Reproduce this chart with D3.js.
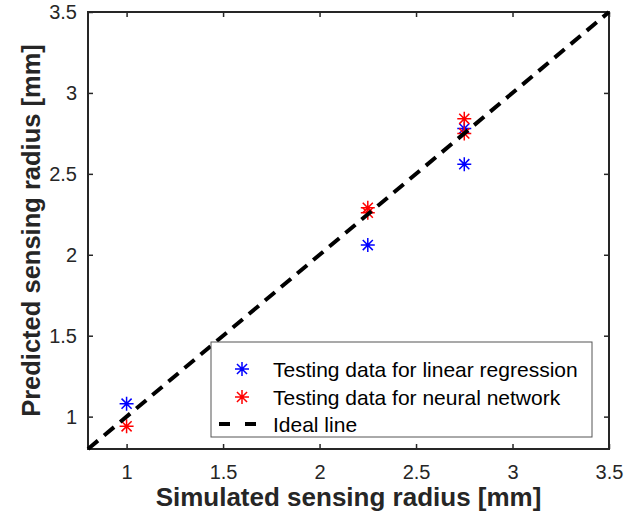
<!DOCTYPE html>
<meta charset="utf-8">
<script src="https://d3js.org/d3.v7.min.js"></script>
<style>
body { margin: 0; background: #fff; }
text { font-family: "Liberation Sans", Arial, sans-serif; }
</style>
<body>
<div id="chart"></div>
<script>

// data
var xTicks = [1, 1.5, 2, 2.5, 3, 3.5];
var yTicks = [1, 1.5, 2, 2.5, 3, 3.5];
var linearX = [1, 2.25, 2.75, 2.75];
var linearY = [1.08, 2.06, 2.56, 2.78];
var neuralX = [1, 2.25, 2.25, 2.75, 2.75];
var neuralY = [0.94, 2.29, 2.26, 2.84, 2.75];
var idealX = [0.8, 3.5];
var idealY = [0.8, 3.5];
var legendLabels = ["Testing data for linear regression", "Testing data for neural network", "Ideal line"];

var W = 642, H = 521;
var margin = {top: 12, right: 33, bottom: 72, left: 88},
    width = W - margin.left - margin.right,
    height = H - margin.top - margin.bottom;

var svg = d3.select("#chart")
  .append("svg")
    .attr("width", W)
    .attr("height", H);

var g = svg.append("g")
    .attr("transform", "translate(" + margin.left + "," + margin.top + ")");

var x = d3.scaleLinear().domain([0.8, 3.5]).range([0, width]);
var y = d3.scaleLinear().domain([0.8, 3.5]).range([height, 0]);

var axisColor = "#262626";
var fmt = function(d) { return String(d); };

function styleAxis(sel) {
  sel.select(".domain").attr("stroke", "none");
  sel.selectAll(".tick line").attr("stroke", axisColor).attr("stroke-width", 1.5);
  sel.selectAll(".tick text")
    .attr("fill", axisColor)
    .style("font-size", "20px")
    .style("font-family", "'Liberation Sans', Arial, sans-serif");
}

// bottom / top / left / right axes, ticks inward
g.append("g")
  .attr("transform", "translate(0," + height + ")")
  .call(d3.axisBottom(x).tickValues(xTicks).tickFormat(fmt).tickSize(-5).tickPadding(16))
  .call(styleAxis);
g.append("g")
  .call(d3.axisTop(x).tickValues(xTicks).tickFormat("").tickSize(-5))
  .call(styleAxis);
g.append("g")
  .call(d3.axisLeft(y).tickValues(yTicks).tickFormat(fmt).tickSize(-5).tickPadding(11))
  .call(styleAxis);
g.append("g")
  .attr("transform", "translate(" + width + ",0)")
  .call(d3.axisRight(y).tickValues(yTicks).tickFormat("").tickSize(-5))
  .call(styleAxis);

// box
g.append("rect")
  .attr("x", 0).attr("y", 0)
  .attr("width", width).attr("height", height)
  .attr("fill", "none")
  .attr("stroke", axisColor)
  .attr("stroke-width", 2);

// asterisk marker like matlab '*'
function star(r) {
  var d = r * 0.72;
  return "M" + (-r) + ",0L" + r + ",0" +
         "M0," + (-r) + "L0," + r +
         "M" + (-d) + "," + (-d) + "L" + d + "," + d +
         "M" + (-d) + "," + d + "L" + d + "," + (-d);
}

function drawStars(xs, ys, color) {
  g.selectAll(null)
    .data(xs.map(function(v, i) { return [v, ys[i]]; }))
    .enter()
    .append("path")
      .attr("d", star(7))
      .attr("transform", function(d) { return "translate(" + x(d[0]) + "," + y(d[1]) + ")"; })
      .attr("fill", "none")
      .attr("stroke", color)
      .attr("stroke-width", 1.5);
}

drawStars(linearX, linearY, "#0000ff");
drawStars(neuralX, neuralY, "#ff0000");

// ideal line
g.append("path")
  .datum(idealX.map(function(v, i) { return [v, idealY[i]]; }))
  .attr("d", d3.line().x(function(d) { return x(d[0]); }).y(function(d) { return y(d[1]); }))
  .attr("fill", "none")
  .attr("stroke", "#000")
  .attr("stroke-width", 4)
  .attr("stroke-dasharray", "13,8");

// legend
var lg = svg.append("g").attr("transform", "translate(211,342)");
lg.append("rect")
  .attr("width", 381).attr("height", 95)
  .attr("fill", "#fff")
  .attr("stroke", "#555")
  .attr("stroke-width", 1);

var rows = [27, 55, 82];
lg.append("path").attr("d", star(7)).attr("transform", "translate(31," + rows[0] + ")")
  .attr("fill", "none").attr("stroke", "#0000ff").attr("stroke-width", 1.5);
lg.append("path").attr("d", star(7)).attr("transform", "translate(31," + rows[1] + ")")
  .attr("fill", "none").attr("stroke", "#ff0000").attr("stroke-width", 1.5);
lg.append("line")
  .attr("x1", 8).attr("x2", 46).attr("y1", rows[2]).attr("y2", rows[2])
  .attr("stroke", "#000").attr("stroke-width", 4)
  .attr("stroke-dasharray", "11,15");

lg.selectAll(".lab")
  .data(legendLabels)
  .enter()
  .append("text")
    .attr("x", 62)
    .attr("y", function(d, i) { return rows[i]; })
    .attr("dy", "0.36em")
    .style("font-size", "21px")
    .attr("fill", "#000")
    .text(function(d) { return d; });

// axis labels
svg.append("text")
  .attr("x", margin.left + width / 2)
  .attr("y", 506)
  .attr("text-anchor", "middle")
  .style("font-size", "26px")
  .style("font-weight", "bold")
  .attr("fill", axisColor)
  .text("Simulated sensing radius [mm]");

svg.append("text")
  .attr("transform", "translate(40," + (margin.top + height / 2) + ") rotate(-90)")
  .attr("text-anchor", "middle")
  .style("font-size", "25.5px")
  .style("font-weight", "bold")
  .attr("fill", axisColor)
  .text("Predicted sensing radius [mm]");

</script>
</body>
